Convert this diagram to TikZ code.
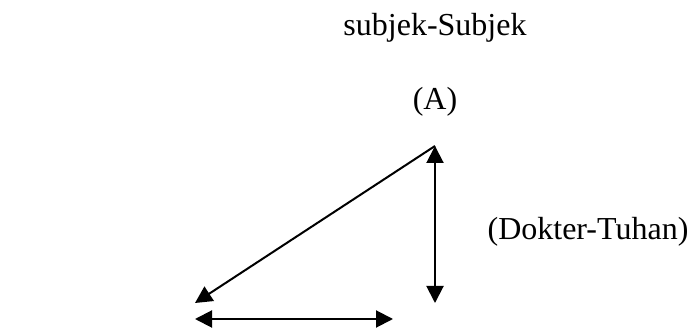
\documentclass[tikz,border=0pt]{standalone}
\usepackage{fontspec}
\setmainfont{Liberation Serif}
\usetikzlibrary{arrows.meta}

\begin{document}
\begin{tikzpicture}[x=0.5pt, y=-0.5pt, line width=1pt,
    >={Triangle[length=8.5pt, width=8.5pt]},
    font=\fontsize{16}{19}\selectfont]
  \useasboundingbox (0,0) rectangle (695,330);
  \coordinate (A) at (435,146);
  \coordinate (B) at (195,303);
  \coordinate (C) at (435,303);
  \coordinate (L) at (195,319);
  \coordinate (R) at (393,319);
  \draw[->] (A) -- (B);
  \draw[<->] (A) -- (C);
  \draw[<->] (L) -- (R);
  \node (judul) at (435,28) {subjek-Subjek};
  \node (puncak) at (435,102) {(A)};
  \node (relasi) at (588,232) {(Dokter-Tuhan)};
\end{tikzpicture}
\end{document}
